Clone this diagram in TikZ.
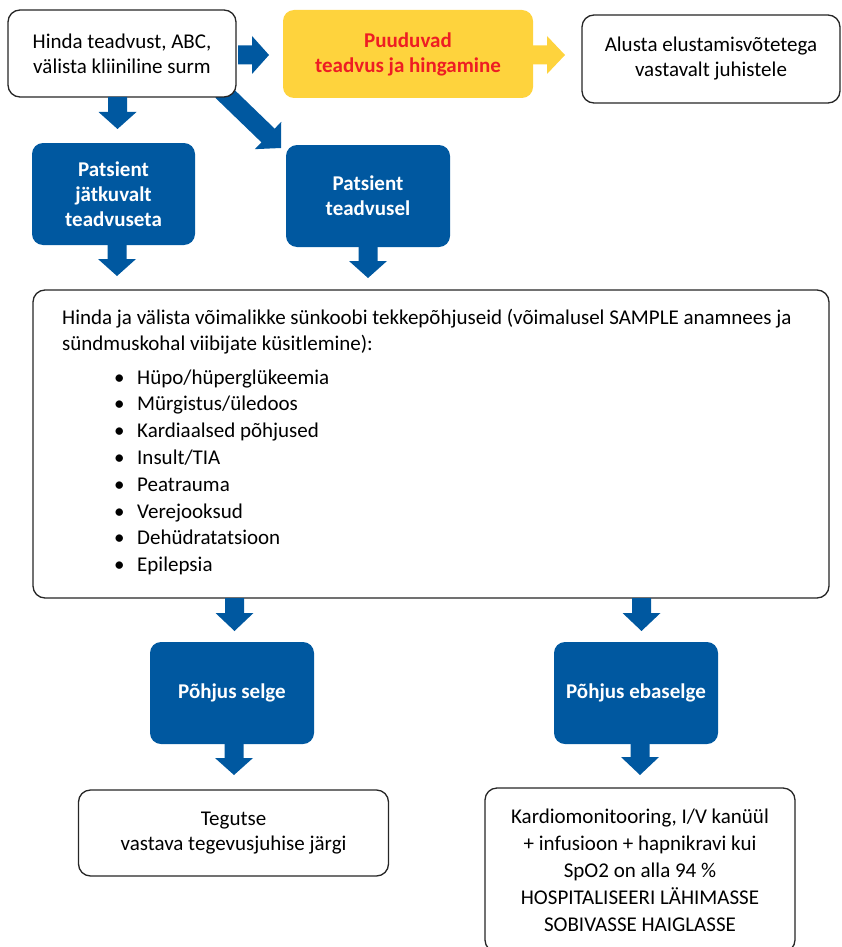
\documentclass[tikz,border=0pt]{standalone}
\usepackage{fontspec}
\setmainfont{Carlito}
\usetikzlibrary{calc}
\definecolor{bblue}{HTML}{0058A0}
\definecolor{byellow}{HTML}{FED33D}
\definecolor{bred}{HTML}{EE1D23}
\definecolor{bline}{HTML}{262626}
\newcommand\barrow[4][bblue]{%
  \coordinate (bh) at ($(#3)!#4!(#2)$);
  \fill[#1] ($(#2)!9.5pt!90:(#3)$) -- ($(bh)!9.5pt!90:(#3)$) -- ($(bh)!19pt!90:(#3)$) -- (#3)
    -- ($(bh)!19pt!-90:(#3)$) -- ($(bh)!9.5pt!-90:(#3)$) -- ($(#2)!9.5pt!-90:(#3)$) -- cycle;}
\newcommand\tsize{\fontsize{21}{25}\selectfont}
\tikzset{
  wbox/.style={draw=bline, line width=1.3pt, fill=white, rounded corners=12pt, align=center, inner sep=0pt, font=\tsize},
  bbox/.style={fill=bblue, rounded corners=11pt, align=center, inner sep=0pt, text=white, font=\tsize\bfseries},
  ybox/.style={fill=byellow, rounded corners=11pt, align=center, inner sep=0pt, text=bred, font=\tsize\bfseries},
  ltext/.style={anchor=base west, inner sep=0pt, font=\tsize},
}
\begin{document}
\begin{tikzpicture}[x=1pt, y=-1pt]
\useasboundingbox (0,0) rectangle (841,947);
% diagonal arrow (behind first box)
\coordinate (a4s) at (222,91);
\coordinate (a4e) at (281,148);
\barrow{a4s}{a4e}{18pt}
% top row
\node[wbox, minimum width=228pt, minimum height=87pt] (a) at (122,53.5) {Hinda teadvust, ABC,\\välista kliiniline surm};
\node[ybox, minimum width=250pt, minimum height=88pt] (y) at (408,54) {Puuduvad\\teadvus ja hingamine};
\node[wbox, minimum width=258pt, minimum height=88pt] (c) at (711,59) {Alusta elustamisvõtetega\\vastavalt juhistele};
% blue boxes second row
\node[bbox, minimum width=163pt, minimum height=102pt] (p1) at (113.5,194) {Patsient\\jätkuvalt\\teadvuseta};
\node[bbox, minimum width=164pt, minimum height=102pt] (p2) at (368,196) {Patsient\\teadvusel};
% big box
\node[wbox, minimum width=796pt, minimum height=308pt] (big) at (431,444) {};
\node[ltext] (l1) at (62,324) {Hinda ja välista võimalikke sünkoobi tekkepõhjuseid (võimalusel SAMPLE anamnees ja};
\node[ltext] (l2) at (62,350) {sündmuskohal viibijate küsitlemine):};
\foreach \t [count=\i from 0] in {Hüpo/hüperglükeemia, Mürgistus/üledoos, Kardiaalsed põhjused, Insult/TIA, Peatrauma, Verejooksud, Dehüdratatsioon, Epilepsia}{
  \node[ltext] (b\i) at (114,{384+26.8*\i}) {•};
  \node[ltext] (t\i) at (137,{384+26.8*\i}) {\t};
}
% cause boxes
\node[bbox, minimum width=164pt, minimum height=102pt] (s1) at (232,693) {Põhjus selge};
\node[bbox, minimum width=164pt, minimum height=102pt] (s2) at (636,693) {Põhjus ebaselge};
% final boxes
\node[wbox, minimum width=310pt, minimum height=86pt] (f1) at (233.5,833) {Tegutse\\vastava tegevusjuhise järgi};
\node[wbox, minimum width=310pt, minimum height=164pt, font=\fontsize{21}{27}\selectfont] (f2) at (640,870) {Kardiomonitooring, I/V kanüül\\+ infusioon + hapnikravi kui\\SpO2 on alla 94 \%\\HOSPITALISEERI LÄHIMASSE\\SOBIVASSE HAIGLASSE};
% arrows
\coordinate (a1s) at (238,55);  \coordinate (a1e) at (269,55);
\coordinate (a2s) at (533,55);  \coordinate (a2e) at (565,55);
\coordinate (a3s) at (117.5,97); \coordinate (a3e) at (117.5,129);
\coordinate (a5s) at (117,245); \coordinate (a5e) at (117,276);
\coordinate (a6s) at (368,247); \coordinate (a6e) at (368,278);
\coordinate (a7s) at (234.5,598); \coordinate (a7e) at (234.5,631);
\coordinate (a8s) at (641.5,598); \coordinate (a8e) at (641.5,631);
\coordinate (a9s) at (234,744); \coordinate (a9e) at (234,775);
\coordinate (a10s) at (640,744); \coordinate (a10e) at (640,775);
\barrow{a1s}{a1e}{17pt}
\barrow[byellow]{a2s}{a2e}{18pt}
\barrow{a3s}{a3e}{17pt}
\barrow{a5s}{a5e}{17pt}
\barrow{a6s}{a6e}{17pt}
\barrow{a7s}{a7e}{18pt}
\barrow{a8s}{a8e}{18pt}
\barrow{a9s}{a9e}{17pt}
\barrow{a10s}{a10e}{18pt}
\end{tikzpicture}
\end{document}
